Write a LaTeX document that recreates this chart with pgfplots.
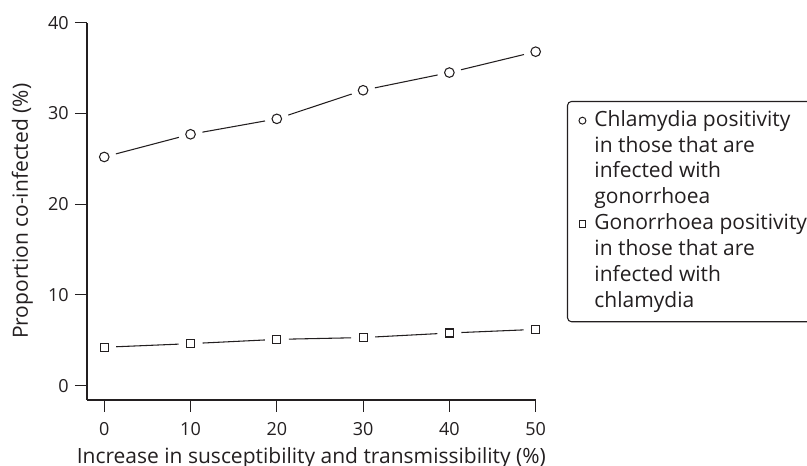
\documentclass[border=0pt]{standalone}
\usepackage{pgfplots}
\pgfplotsset{compat=1.18}
\usepackage{fontspec}
\setmainfont{Open Sans}
\definecolor{ink}{RGB}{35,31,32}
\begin{document}
\fontsize{15.75pt}{19.4pt}\selectfont
\begin{tikzpicture}[x=1pt,y=1pt]
\useasboundingbox (-65.25pt,-49.5pt) rectangle (540pt,300pt);
\begin{axis}[
  at={(0pt,0pt)}, anchor=south west,
  scale only axis,
  width=336.5pt, height=283pt,
  xmin=-2, xmax=50, ymin=-1.58, ymax=40,
  axis x line=bottom, axis y line=left,
  axis line style={-, draw=ink, line width=0.8pt},
  every tick/.style={draw=ink, line width=0.8pt},
  tick align=outside,
  major tick length=9pt,
  xtick={0,10,20,30,40,50},
  ytick={0,10,20,30,40},
  /pgf/number format/assume math mode=true,
  tick label style={font=\fontsize{13.5pt}{16pt}\selectfont, text=ink},
  xticklabel style={inner sep=0pt, yshift=-7.5pt},
  yticklabel style={inner sep=0pt, xshift=-4.5pt},
  xlabel={Increase in susceptibility and transmissibility (\%)},
  ylabel={Proportion co-infected (\%)},
  label style={font=\fontsize{15.75pt}{18pt}\selectfont, text=ink},
  xlabel style={at={(axis description cs:0.5,-0.167)}, anchor=base, inner sep=0pt},
  ylabel style={at={(axis description cs:-0.1315,0.5)}, anchor=base, inner sep=0pt},
  clip=false,
  seg/.style={draw=ink, line width=0.8pt, no marks, forget plot, shorten >=9pt, shorten <=9pt},
  legend style={at={(axis description cs:1.0698,0.7925)}, anchor=north west,
    draw=ink, line width=0.8pt, rounded corners=3pt, fill=white,
    inner xsep=8.6pt, inner ysep=5pt, row sep=0pt, column sep=4.4pt,
    cells={anchor=base west},
    nodes={inner xsep=2pt, inner ysep=0pt, text depth=},
    font=\fontsize{15.75pt}{19.4pt}\selectfont, text=ink},
  legend image code/.code={\draw[#1] plot coordinates {(0pt,4.2pt)};},
]
% Chlamydia positivity (circles): connecting segments with gaps at the markers
\addplot[seg] coordinates {(0,25.2) (10,27.7)};
\addplot[seg] coordinates {(10,27.7) (20,29.4)};
\addplot[seg] coordinates {(20,29.4) (30,32.55)};
\addplot[seg] coordinates {(30,32.55) (40,34.5)};
\addplot[seg] coordinates {(40,34.5) (50,36.8)};
\addplot[only marks, mark=o, mark size=3.6pt, draw=ink, line width=0.8pt, mark options={fill=white}, forget plot] coordinates {
 (0,25.2) (10,27.7) (20,29.4) (30,32.55) (40,34.5) (50,36.8)};
% Gonorrhoea positivity (squares)
\addplot[seg] coordinates {(0,4.23) (10,4.63)};
\addplot[seg] coordinates {(10,4.63) (20,5.1)};
\addplot[seg] coordinates {(20,5.1) (30,5.3)};
\addplot[seg] coordinates {(30,5.3) (40,5.8)};
\addplot[seg] coordinates {(40,5.8) (50,6.2)};
\addplot[only marks, mark=square, mark size=3pt, draw=ink, line width=0.8pt, mark options={fill=white}, forget plot] coordinates {
 (0,4.23) (10,4.63) (20,5.1) (30,5.3) (40,5.8) (50,6.2)};
\addlegendimage{only marks, mark=o, mark size=2.6pt, draw=ink, line width=0.75pt}
\addlegendentry{\begin{tabular}[t]{@{}l@{}}Chlamydia positivity\\in those that are\\infected with\\gonorrhoea\end{tabular}}
\addlegendimage{only marks, mark=square, mark size=2.4pt, draw=ink, line width=0.75pt}
\addlegendentry{\begin{tabular}[t]{@{}l@{}}Gonorrhoea positivity\\in those that are\\infected with\\chlamydia\end{tabular}}
\end{axis}
\end{tikzpicture}
\end{document}
